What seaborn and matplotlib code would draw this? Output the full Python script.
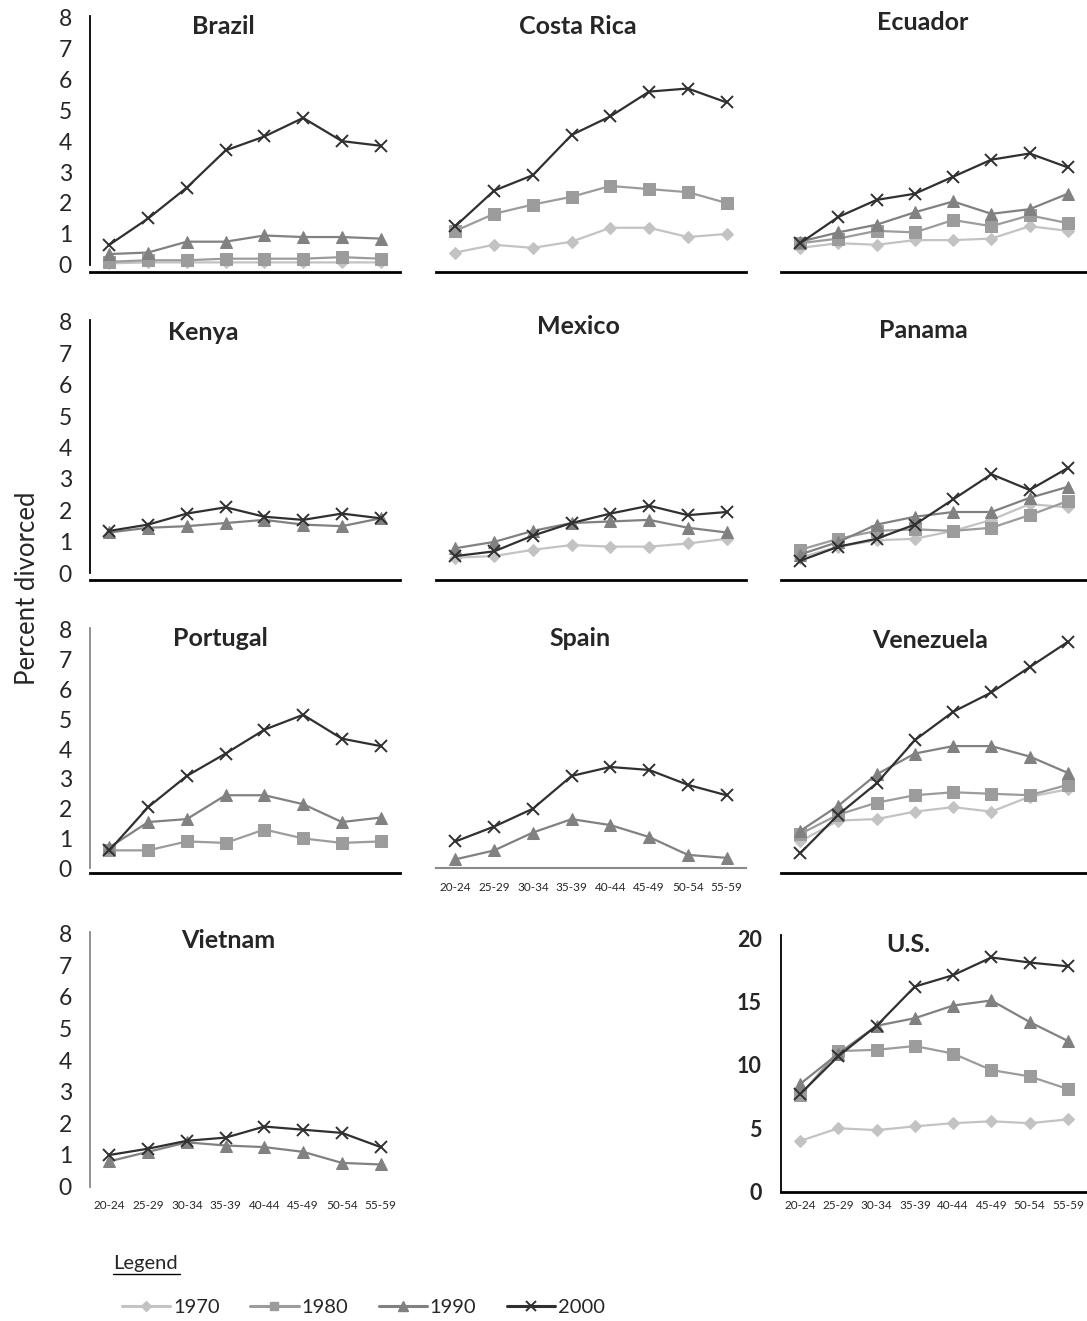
import matplotlib
matplotlib.use("Agg")
import matplotlib.pyplot as plt
import seaborn as sns
from matplotlib.lines import Line2D

W, H = 1087, 1321

AGES = ["20-24", "25-29", "30-34", "35-39", "40-44", "45-49", "50-54", "55-59"]
YEARS = ["1970", "1980", "1990", "2000"]

BRAZIL = {
    "1970": [0.05, 0.08, 0.08, 0.08, 0.08, 0.08, 0.08, 0.08],
    "1980": [0.1, 0.15, 0.15, 0.2, 0.2, 0.2, 0.25, 0.2],
    "1990": [0.35, 0.4, 0.75, 0.75, 0.95, 0.9, 0.9, 0.85],
    "2000": [0.65, 1.5, 2.5, 3.7, 4.15, 4.75, 4.0, 3.85],
}
COSTA_RICA = {
    "1970": [0.4, 0.65, 0.55, 0.75, 1.2, 1.2, 0.9, 1.0],
    "1980": [1.1, 1.65, 1.95, 2.2, 2.55, 2.45, 2.35, 2.0],
    "2000": [1.25, 2.4, 2.9, 4.2, 4.8, 5.6, 5.7, 5.25],
}
ECUADOR = {
    "1970": [0.55, 0.7, 0.65, 0.8, 0.8, 0.85, 1.25, 1.1],
    "1980": [0.7, 0.85, 1.1, 1.05, 1.45, 1.25, 1.6, 1.35],
    "1990": [0.75, 1.05, 1.3, 1.7, 2.05, 1.65, 1.8, 2.3],
    "2000": [0.7, 1.55, 2.1, 2.3, 2.85, 3.4, 3.6, 3.15],
}
KENYA = {
    "1990": [1.3, 1.45, 1.5, 1.6, 1.7, 1.55, 1.5, 1.75],
    "2000": [1.35, 1.55, 1.9, 2.1, 1.8, 1.7, 1.9, 1.75],
}
MEXICO = {
    "1970": [0.5, 0.55, 0.75, 0.9, 0.85, 0.85, 0.95, 1.1],
    "1990": [0.8, 1.0, 1.35, 1.6, 1.65, 1.7, 1.45, 1.3],
    "2000": [0.55, 0.7, 1.2, 1.6, 1.9, 2.15, 1.85, 1.95],
}
PANAMA = {
    "1970": [0.5, 0.85, 1.05, 1.1, 1.35, 1.7, 2.2, 2.1],
    "1980": [0.75, 1.1, 1.35, 1.4, 1.35, 1.45, 1.85, 2.3],
    "1990": [0.6, 1.0, 1.55, 1.8, 1.95, 1.95, 2.4, 2.75],
    "2000": [0.4, 0.85, 1.1, 1.55, 2.35, 3.15, 2.65, 3.35],
}
PORTUGAL = {
    "1980": [0.6, 0.6, 0.9, 0.85, 1.3, 1.0, 0.85, 0.9],
    "1990": [0.7, 1.55, 1.65, 2.45, 2.45, 2.15, 1.55, 1.7],
    "2000": [0.6, 2.05, 3.1, 3.85, 4.65, 5.15, 4.35, 4.1],
}
SPAIN = {
    "1990": [0.3, 0.6, 1.2, 1.65, 1.45, 1.05, 0.45, 0.35],
    "2000": [0.9, 1.4, 2.0, 3.1, 3.4, 3.3, 2.8, 2.45],
}
VENEZUELA = {
    "1970": [0.9, 1.6, 1.65, 1.9, 2.05, 1.9, 2.4, 2.65],
    "1980": [1.15, 1.8, 2.2, 2.45, 2.55, 2.5, 2.45, 2.8],
    "1990": [1.25, 2.1, 3.15, 3.85, 4.1, 4.1, 3.75, 3.2],
    "2000": [0.5, 1.8, 2.85, 4.3, 5.25, 5.9, 6.75, 7.6],
}
VIETNAM = {
    "1990": [0.8, 1.1, 1.4, 1.3, 1.25, 1.1, 0.75, 0.7],
    "2000": [1.0, 1.2, 1.45, 1.55, 1.9, 1.8, 1.7, 1.25],
}
US = {
    "1970": [4.0, 5.0, 4.85, 5.15, 5.4, 5.55, 5.4, 5.7],
    "1980": [7.6, 11.1, 11.2, 11.5, 10.9, 9.6, 9.1, 8.1],
    "1990": [8.5, 10.9, 13.1, 13.7, 14.7, 15.1, 13.4, 11.9],
    "2000": [7.7, 10.7, 13.1, 16.2, 17.1, 18.5, 18.1, 17.8],
}

STYLE = {
    "1970": dict(color="#c3c3c3", marker="D", markersize=6.5),
    "1980": dict(color="#9c9c9c", marker="s", markersize=8),
    "1990": dict(color="#818181", marker="^", markersize=9),
    "2000": dict(color="#303030", marker="x", markersize=9, markeredgewidth=1.4),
}

sns.set_theme(style="white")
plt.rcParams["font.family"] = ["Lato", "DejaVu Sans"]

fig = plt.figure(figsize=(W / 100, H / 100), dpi=100)


def px_axes(left, top, right, bottom):
    return fig.add_axes([left / W, 1 - bottom / H, (right - left) / W, (bottom - top) / H])


def px_text(x, y, s, **kw):
    fig.text(x / W, 1 - y / H, s, ha="center", va="center", **kw)


COLS = [(90, 400), (436, 746), (781, 1087)]

# name, data, col, top, bottom, ylim, left spine colour, bottom spine colour, xlabels, title xy
panels = [
    ("Brazil", BRAZIL, 0, 15.8, 272, (-0.23, 8.05), "black", "black", False, (223, 27)),
    ("Costa Rica", COSTA_RICA, 1, 15.8, 272, (-0.23, 8.05), None, "black", False, (578, 27)),
    ("Ecuador", ECUADOR, 2, 15.8, 272, (-0.23, 8.05), None, "black", False, (923, 22)),
    ("Kenya", KENYA, 0, 320, 580, (-0.21, 8.05), "black", "black", False, (203, 332)),
    ("Mexico", MEXICO, 1, 320, 580, (-0.21, 8.05), None, "black", False, (578, 327)),
    ("Panama", PANAMA, 2, 320, 580, (-0.21, 8.05), None, "black", False, (923, 330)),
    ("Portugal", PORTUGAL, 0, 628.4, 873, (-0.16, 8.05), "#8a8a8a", "black", False, (220, 638)),
    ("Spain", SPAIN, 1, 628.4, 868.3, (0, 8.05), None, "#8a8a8a", True, (580, 638)),
    ("Venezuela", VENEZUELA, 2, 628.4, 873, (-0.16, 8.05), None, "black", False, (930, 640)),
    ("Vietnam", VIETNAM, 0, 932.2, 1186.6, (0, 8.05), "#8a8a8a", None, True, (228, 940)),
    ("U.S.", US, 2, 934.7, 1191.5, (0, 20.3), "black", "black", True, (908, 945)),
]

for name, data, col, top, bottom, ylim, lcol, bcol, xlab, (tx, ty) in panels:
    left, right = COLS[col]
    ax = px_axes(left, top, right, bottom)
    for yr in YEARS:
        if yr in data:
            sns.lineplot(x=list(range(len(AGES))), y=data[yr], ax=ax, linewidth=1.6,
                         markeredgecolor=STYLE[yr]["color"], legend=False, **STYLE[yr])
    ax.set_xlim(-0.5, 7.5)
    ax.set_ylim(*ylim)
    for s in ax.spines.values():
        s.set_visible(False)
    if lcol:
        ax.spines["left"].set_visible(True)
        ax.spines["left"].set_color(lcol)
        ax.spines["left"].set_linewidth(1.3)
        ax.spines["left"].set_bounds(0, ylim[1])
        if name == "U.S.":
            ax.set_yticks([0, 5, 10, 15, 20])
            ax.tick_params(axis="y", labelsize=15.5, pad=14)
            for t in ax.get_yticklabels():
                t.set_fontweight("bold")
        else:
            ax.set_yticks(range(9))
            ax.tick_params(axis="y", labelsize=16.5, pad=13)
    else:
        ax.set_yticks([])
    if bcol:
        ax.spines["bottom"].set_visible(True)
        ax.spines["bottom"].set_color(bcol)
        ax.spines["bottom"].set_linewidth(2.0 if bcol == "black" else 1.5)
    ax.set_xticks(range(len(AGES)))
    if xlab:
        ax.set_xticklabels(AGES, fontsize=8.5)
        ax.tick_params(axis="x", pad=10 if name != "U.S." else 6)
    else:
        ax.set_xticklabels([])
    ax.tick_params(length=0)
    ax.set_xlabel("")
    ax.set_ylabel("")
    ax.grid(False)
    px_text(tx, ty, name, fontsize=18, fontweight="bold")

px_text(28, 588, "Percent divorced", fontsize=18.5, rotation=90)

# legend block
fig.text(113 / W, 1 - 1263 / H, "Legend", fontsize=14.5, ha="left", va="center")
fig.add_artist(Line2D([113 / W, 180 / W], [1 - 1274 / H, 1 - 1274 / H], color="black", linewidth=1))
handles = [Line2D([], [], linewidth=2.2, markeredgecolor=STYLE[y]["color"],
                  **{**STYLE[y], "markersize": STYLE[y]["markersize"] * 0.75}) for y in YEARS]
fig.legend(handles, YEARS, loc="center left", bbox_to_anchor=(122 / W, 1 - 1307 / H),
           ncol=4, frameon=False, fontsize=14.5, handlelength=2.4, handletextpad=0.15,
           columnspacing=1.5, borderaxespad=0, borderpad=0)

fig.savefig("out.png", dpi=100)
